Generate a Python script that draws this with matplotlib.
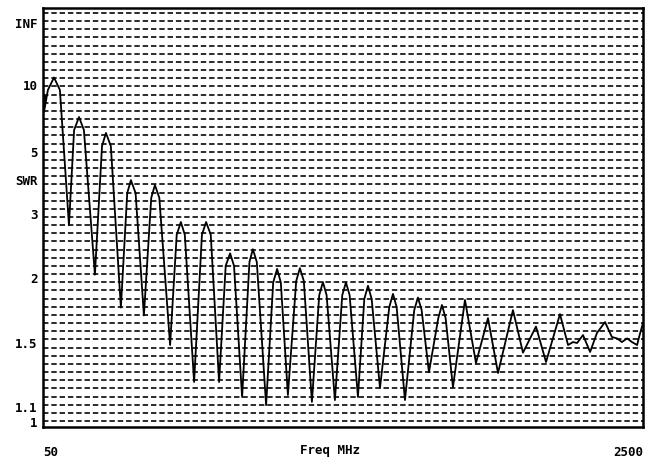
import numpy as np
import matplotlib
matplotlib.use("Agg")
import matplotlib.pyplot as plt
from matplotlib.ticker import FixedLocator, NullFormatter

# sweep: frequency (MHz) and SWR
FREQ_MHZ = [50, 54, 70, 95, 119, 156, 177, 197, 217, 262, 291, 307, 327, 368,
            394, 409, 428, 462, 492, 507, 525, 569, 596, 613, 629, 667, 699, 716,
            735, 769, 796, 814, 830, 863, 893, 907, 923, 961, 990, 1006, 1021,
            1050, 1084, 1099, 1115, 1148, 1178, 1193, 1208, 1242, 1272, 1287,
            1302, 1336, 1362, 1377, 1392, 1426, 1464, 1479, 1494, 1528, 1566,
            1581, 1596, 1626, 1664, 1679, 1694, 1724, 1773, 1818, 1867, 1908,
            1969, 2010, 2063, 2104, 2161, 2194, 2214, 2231, 2255, 2284, 2312,
            2345, 2373, 2394, 2414, 2435, 2455, 2476, 2484, 2500]
SWR = [8.47, 7.23, 9.36, 11.5, 9.36, 2.78, 6.05, 6.87, 6.05, 2.04, 5.25, 5.89,
       5.25, 1.75, 3.51, 3.89, 3.51, 1.69, 3.38, 3.74, 3.38, 1.485, 2.61, 2.84,
       2.61, 1.24, 2.61, 2.84, 2.61, 1.24, 2.15, 2.32, 2.15, 1.154, 2.20, 2.38,
       2.20, 1.11, 1.96, 2.11, 1.96, 1.165, 1.973, 2.12, 1.973, 1.127, 1.85,
       1.963, 1.85, 1.137, 1.85, 1.96, 1.85, 1.154, 1.818, 1.93, 1.818, 1.205,
       1.754, 1.86, 1.754, 1.137, 1.731, 1.83, 1.731, 1.30, 1.67, 1.77, 1.67,
       1.21, 1.81, 1.36, 1.67, 1.295, 1.73, 1.43, 1.61, 1.366, 1.70, 1.485,
       1.506, 1.50, 1.552, 1.435, 1.566, 1.642, 1.539, 1.53, 1.506, 1.53,
       1.506, 1.485, 1.539, 1.635]

Y_TICKS = [1, 1.1, 1.5, 2, 3, 5, 10, 1000]
Y_LABELS = ["1", "1.1", "1.5", "2", "3", "5", "10", "INF"]
X_TICKS = [50, 2500]
X_LABELS = ["50", "2500"]

# analyser's SWR axis: roughly linear in reflection coefficient
SCALE_SWR = np.array([0.97, 1, 1.1, 1.5, 2, 3, 5, 10, 1000, 10000])
SCALE_POS = np.array([0, 5, 20, 84, 149, 213, 275, 342, 404, 419], dtype=float)
SCALE_G = (SCALE_SWR - 1) / (SCALE_SWR + 1)


def fwd(s):
    s = np.asarray(s, dtype=float)
    g = (s - 1) / (s + 1)
    return np.interp(g, SCALE_G, SCALE_POS)


def inv(p):
    g = np.interp(np.asarray(p, dtype=float), SCALE_POS, SCALE_G)
    return (1 + g) / (1 - g)


fig = plt.figure(figsize=(6.55, 4.63), dpi=100)
ax = fig.add_axes([43 / 655, 36 / 463, 600 / 655, 419 / 463])
ax.set_yscale("function", functions=(fwd, inv))
ax.set_ylim(SCALE_SWR[0], SCALE_SWR[-1])
ax.set_xlim(50, 2500)

# dashed grid, evenly spaced in display position
grid_pos = np.linspace(6, 414, 51)
ax.yaxis.set_minor_locator(FixedLocator(inv(grid_pos)))
ax.yaxis.set_minor_formatter(NullFormatter())
ax.grid(True, which="minor", axis="y", color="#1a1a1a",
        linestyle=(0, (3, 1.6)), linewidth=1.3)
ax.set_axisbelow(True)

ax.plot(FREQ_MHZ, SWR, color="black", linewidth=1.3,
        marker="o", markersize=4, markevery=[0])

font = dict(family="DejaVu Sans Mono", weight="bold", size=9)
ax.set_yticks(Y_TICKS)
ax.set_yticklabels(Y_LABELS, fontdict=font)
ax.set_xticks(X_TICKS)
ax.set_xticklabels(X_LABELS, fontdict=font)
xlabs = ax.xaxis.get_majorticklabels()
xlabs[0].set_horizontalalignment("left")
xlabs[1].set_horizontalalignment("right")
ax.tick_params(axis="both", which="both", length=0)
ax.tick_params(axis="y", pad=4)
ax.tick_params(axis="x", pad=14)

ax.text(-0.008, 0.585, "SWR", transform=ax.transAxes, ha="right",
        va="center", **font)
ax.text(0.478, -0.055, "Freq MHz", transform=ax.transAxes, ha="center",
        va="center", **font)

for sp in ax.spines.values():
    sp.set_linewidth(1.8)
    sp.set_color("black")

fig.savefig("out.png", dpi=100)
